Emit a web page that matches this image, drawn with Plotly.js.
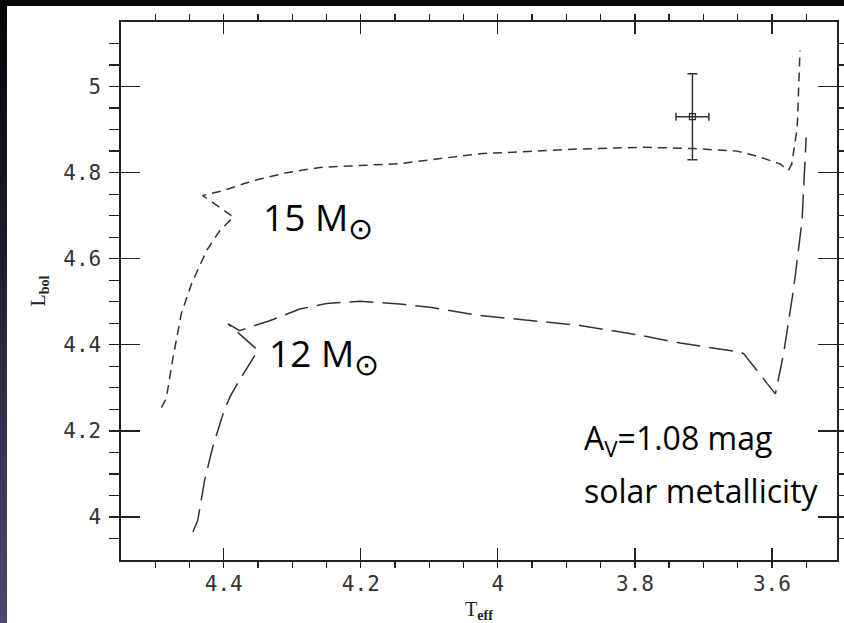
<!DOCTYPE html>
<html>
<head>
<meta charset="utf-8">
<script src="https://cdn.plot.ly/plotly-3.0.1.min.js"></script>
<style>
  html, body { margin:0; padding:0; width:844px; height:623px; overflow:hidden;
    background: linear-gradient(to bottom, #050508 0%, #1c1c30 40%, #4a4a72 100%); }
  #chart { position:absolute; left:7px; top:6px; width:837px; height:617px; background:#fff; }
</style>
</head>
<body>
<div id="chart"></div>
<script>
// 15 Msun evolutionary track (log Teff, log L)
const track15Teff = [4.491, 4.484, 4.474, 4.462, 4.447, 4.425, 4.406, 4.386, 4.431, 4.401, 4.358, 4.308, 4.260, 4.212, 4.143, 4.026, 3.880, 3.788, 3.715, 3.651, 3.617, 3.588, 3.576, 3.571, 3.563, 3.559];
const track15L    = [4.254, 4.275, 4.371, 4.472, 4.542, 4.619, 4.665, 4.697, 4.747, 4.758, 4.781, 4.800, 4.812, 4.816, 4.821, 4.844, 4.855, 4.859, 4.856, 4.850, 4.836, 4.820, 4.805, 4.820, 4.905, 5.084];
// 12 Msun evolutionary track
const track12Teff = [4.445, 4.438, 4.428, 4.416, 4.401, 4.391, 4.377, 4.350, 4.394, 4.377, 4.333, 4.289, 4.250, 4.201, 4.143, 4.099, 4.026, 3.929, 3.880, 3.792, 3.734, 3.646, 3.641, 3.595, 3.583, 3.568, 3.556, 3.550];
const track12L    = [3.965, 3.992, 4.085, 4.163, 4.240, 4.279, 4.318, 4.387, 4.449, 4.433, 4.456, 4.483, 4.496, 4.501, 4.495, 4.487, 4.468, 4.453, 4.445, 4.422, 4.404, 4.383, 4.379, 4.286, 4.379, 4.534, 4.689, 4.882];
// Observed star
const starTeff = [3.716];
const starL = [4.93];
const starTeffErr = [0.024];
const starLErr = [0.1];

const labels = {
  m15: '15 M<sub><span style="font-size:30px">⊙</span></sub>',
  m12: '12 M<sub><span style="font-size:30px">⊙</span></sub>',
  av: 'A<sub>V</sub>=1.08 mag',
  met: 'solar metallicity'
};

const lineCol = '#333333';
const traces = [
  { x: track15Teff, y: track15L, mode: 'lines', type: 'scatter',
    line: { color: lineCol, width: 1.5, dash: '9px,6px' }, hoverinfo: 'skip' },
  { x: track12Teff, y: track12L, mode: 'lines', type: 'scatter',
    line: { color: lineCol, width: 1.5, dash: '24px,9px' }, hoverinfo: 'skip' },
  { x: starTeff, y: starL, mode: 'markers', type: 'scatter',
    marker: { symbol: 'square-open', size: 6, color: '#333', line: { width: 1.3, color: '#333' } },
    error_y: { type: 'data', array: starLErr, visible: true, color: '#333', thickness: 1.5, width: 5 },
    error_x: { type: 'data', array: starTeffErr, visible: true, color: '#333', thickness: 1.5, width: 4 } }
];

const tickFont = { family: 'DejaVu Sans Mono', size: 21, color: '#333' };
const annFont = { family: 'Open Sans', size: 32, color: '#000' };
const massFont = { family: 'Open Sans', size: 37, color: '#000' };

const layout = {
  width: 837, height: 617,
  margin: { l: 114, r: 7, t: 16, b: 63 },
  paper_bgcolor: '#ffffff', plot_bgcolor: '#ffffff',
  showlegend: false,
  xaxis: {
    range: [4.55, 3.505], tickvals: [4.4, 4.2, 4.0, 3.8, 3.6], ticktext: ['4.4','4.2','4','3.8','3.6'],
    ticks: 'inside', ticklen: 12, tickwidth: 1.3, tickcolor: '#222',
    minor: { dtick: 0.05, ticklen: 6, tickwidth: 1.3, tickcolor: '#222', showgrid: false },
    showline: true, linecolor: '#222', linewidth: 1.6, mirror: 'allticks',
    showgrid: false, zeroline: false, tickfont: tickFont, ticklabelstandoff: 4,
    title: { text: 'T<sub><b>eff</b></sub>', font: { family: 'Liberation Serif', size: 20, color: '#222' }, standoff: 8 }
  },
  yaxis: {
    range: [3.9, 5.15], tickvals: [4, 4.2, 4.4, 4.6, 4.8, 5], ticktext: ['4','4.2','4.4','4.6','4.8','5'],
    ticks: 'inside', ticklen: 19, tickwidth: 1.3, tickcolor: '#222',
    minor: { dtick: 0.05, ticklen: 10, tickwidth: 1.3, tickcolor: '#222', showgrid: false },
    showline: true, linecolor: '#222', linewidth: 1.6, mirror: 'allticks',
    showgrid: false, zeroline: false, tickfont: tickFont, ticklabelstandoff: 14,
    title: { text: 'L<sub><b>bol</b></sub>', font: { family: 'Liberation Serif', size: 20, color: '#222' }, standoff: 12 }
  },
  annotations: [
    { x: 4.346, y: 4.69, xref: 'x', yref: 'y', text: labels.m15, showarrow: false, xanchor: 'left', yanchor: 'middle', font: massFont },
    { x: 4.337, y: 4.375, xref: 'x', yref: 'y', text: labels.m12, showarrow: false, xanchor: 'left', yanchor: 'middle', font: massFont },
    { x: 3.877, y: 4.178, xref: 'x', yref: 'y', text: labels.av, showarrow: false, xanchor: 'left', yanchor: 'middle', font: annFont },
    { x: 3.877, y: 4.062, xref: 'x', yref: 'y', text: labels.met, showarrow: false, xanchor: 'left', yanchor: 'middle', font: annFont }
  ]
};

Plotly.newPlot('chart', traces, layout, { displayModeBar: false, staticPlot: true });
</script>
</body>
</html>
